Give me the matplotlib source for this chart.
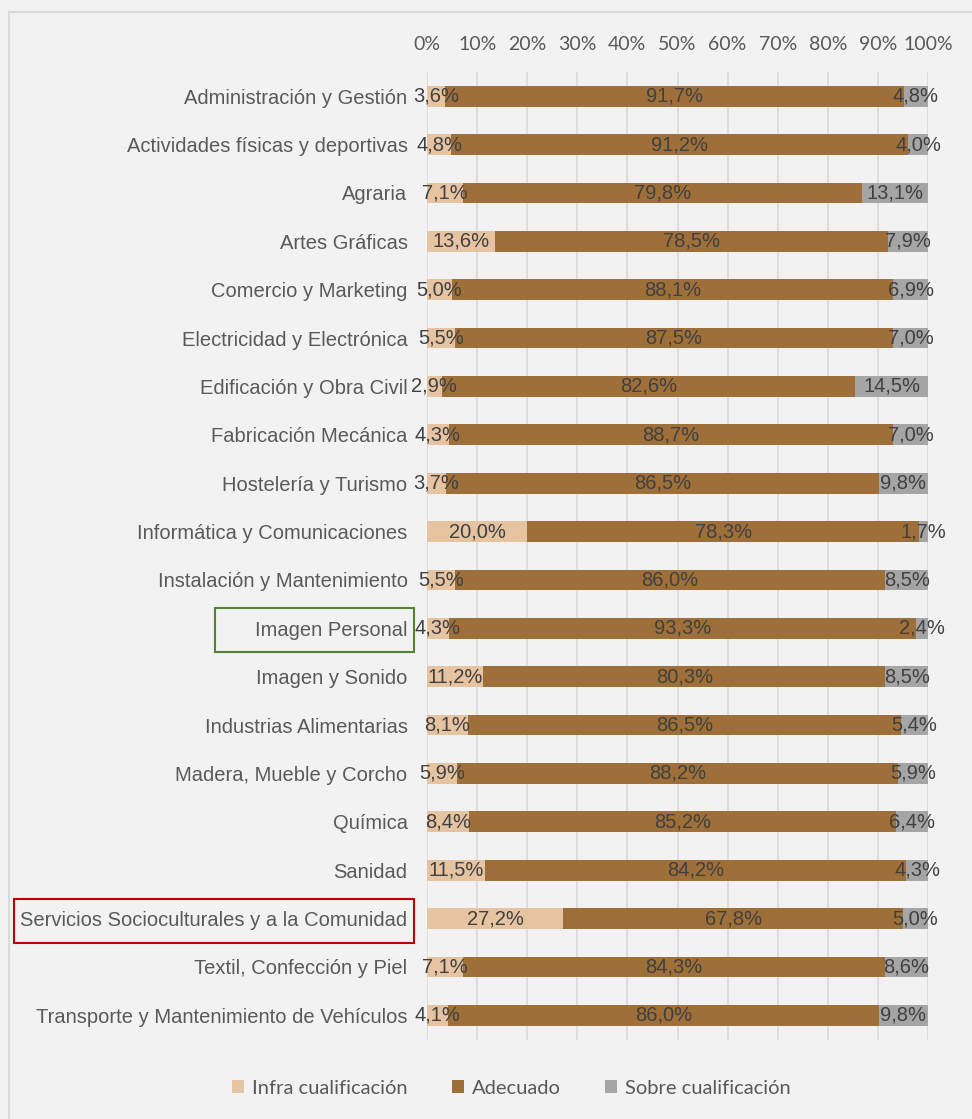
import numpy as np
import matplotlib
matplotlib.use('Agg')
import matplotlib.pyplot as plt
from matplotlib.patches import Rectangle, Patch

familias = ['Administración y Gestión', 'Actividades físicas y deportivas', 'Agraria',
            'Artes Gráficas', 'Comercio y Marketing', 'Electricidad y Electrónica',
            'Edificación y Obra Civil', 'Fabricación Mecánica', 'Hostelería y Turismo',
            'Informática y Comunicaciones', 'Instalación y Mantenimiento', 'Imagen Personal',
            'Imagen y Sonido', 'Industrias Alimentarias', 'Madera, Mueble y Corcho',
            'Química', 'Sanidad', 'Servicios Socioculturales y a la Comunidad',
            'Textil, Confección y Piel', 'Transporte y Mantenimiento de Vehículos']
infra = [3.6, 4.8, 7.1, 13.6, 5.0, 5.5, 2.9, 4.3, 3.7, 20.0, 5.5, 4.3, 11.2, 8.1, 5.9, 8.4, 11.5, 27.2, 7.1, 4.1]
adecuado = [91.7, 91.2, 79.8, 78.5, 88.1, 87.5, 82.6, 88.7, 86.5, 78.3, 86.0, 93.3, 80.3, 86.5, 88.2, 85.2, 84.2, 67.8, 84.3, 86.0]
sobre = [4.8, 4.0, 13.1, 7.9, 6.9, 7.0, 14.5, 7.0, 9.8, 1.7, 8.5, 2.4, 8.5, 5.4, 5.9, 6.4, 4.3, 5.0, 8.6, 9.8]
series = ['Infra cualificación', 'Adecuado', 'Sobre cualificación']
colores = ['#E6C4A2', '#9E6F38', '#A5A5A5']

W, H = 972, 1119
fig = plt.figure(figsize=(W / 100, H / 100), dpi=100)
fig.patch.set_facecolor('#F2F2F2')

# outer chart frame (right/bottom edges fall outside the image)
fig.add_artist(Rectangle((9 / W, -0.05), 1.0, 1 - 12 / H + 0.05, transform=fig.transFigure,
                         fill=False, edgecolor='#D9D9D9', linewidth=1.5))

ax = fig.add_axes([427 / W, 1 - 1039.5 / H, 501 / W, (1039.5 - 72) / H])
ax.set_facecolor('#F2F2F2')

datos = np.array([infra, adecuado, sobre])
pct = datos / datos.sum(axis=0) * 100  # 100% stacked
y = np.arange(len(familias))
left = np.zeros(len(familias))
for i in range(3):
    bars = ax.barh(y, pct[i], left=left, height=0.43, color=colores[i], zorder=2, label=series[i])
    etiquetas = [('%.1f%%' % v).replace('.', ',') for v in datos[i]]
    ax.bar_label(bars, labels=etiquetas, label_type='center', fontsize=14.5,
                 color='#404040', family='Liberation Sans')
    left += pct[i]

ax.set_xlim(0, 100)
ax.set_ylim(len(familias) - 0.5, -0.5)
ax.set_xticks(np.arange(0, 101, 10))
ax.set_xticklabels(['%d%%' % t for t in range(0, 101, 10)])
ax.xaxis.tick_top()
ax.set_yticks(y)
ax.set_yticklabels(familias)
ax.grid(axis='x', color='#D9D9D9', linewidth=1.2, zorder=0)
ax.tick_params(axis='x', length=0, pad=14, labelsize=14, labelcolor='#595959')
ax.tick_params(axis='y', length=0, pad=14, labelsize=14.5, labelcolor='#595959')
for t in ax.get_xticklabels():
    t.set_family('Lato')
for t in ax.get_yticklabels():
    t.set_family('Liberation Sans')
for s in ax.spines.values():
    s.set_visible(False)

handles = [Patch(facecolor=c, label=s) for c, s in zip(colores, series)]
leg = fig.legend(handles=handles, loc='center', bbox_to_anchor=(0.526, 1 - 1088 / H), ncol=3,
                 frameon=False, handlelength=0.6, handleheight=0.6, handletextpad=0.4,
                 columnspacing=2.2, prop={'family': 'Lato', 'size': 14.5})
for t in leg.get_texts():
    t.set_color('#595959')

# highlight boxes around two family labels
fig.canvas.draw()
r = fig.canvas.get_renderer()
marcas = {'Imagen Personal': ('#538135', 40), 'Servicios Socioculturales y a la Comunidad': ('#C00000', 6)}
for t in ax.get_yticklabels():
    if t.get_text() in marcas:
        col, padl = marcas[t.get_text()]
        bb = t.get_window_extent(r)
        cy = (bb.y0 + bb.y1) / 2
        x0, x1 = bb.x0 - padl, bb.x1 + 6
        fig.add_artist(Rectangle((x0 / W, (cy - 22) / H), (x1 - x0) / W, 44 / H,
                                 transform=fig.transFigure, fill=False, edgecolor=col, linewidth=1.5))

fig.savefig('out.png', dpi=100, facecolor=fig.get_facecolor())
